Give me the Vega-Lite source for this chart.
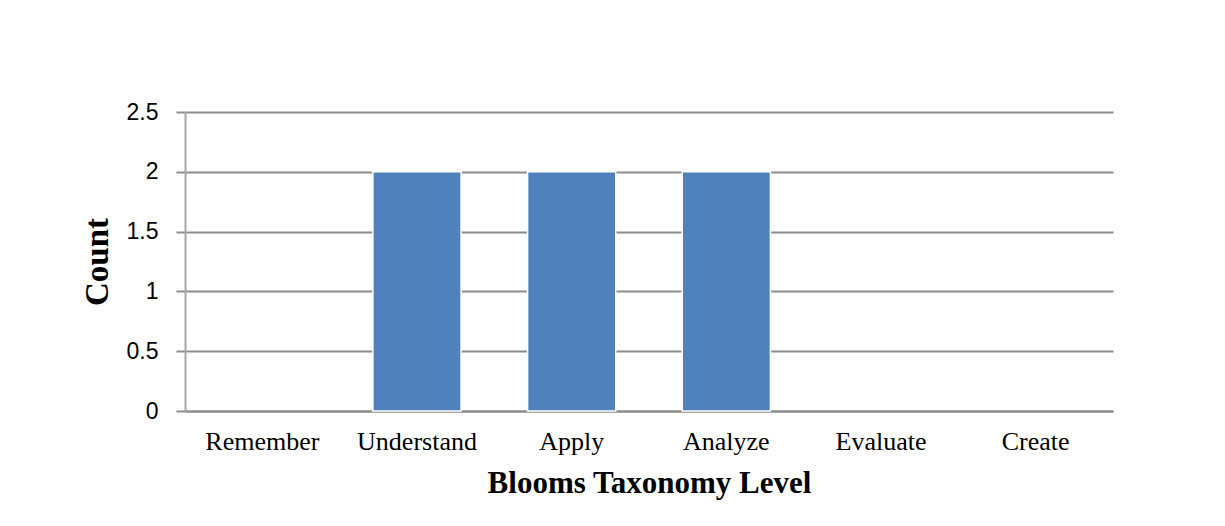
{
  "$schema": "https://vega.github.io/schema/vega-lite/v6.json",
  "width": 928,
  "height": 299,
  "autosize": "none",
  "padding": {"left": 185, "top": 112, "right": 112, "bottom": 115},
  "background": "white",
  "data": {
    "values": [
      {"level": "Remember", "count": 0},
      {"level": "Understand", "count": 2},
      {"level": "Apply", "count": 2},
      {"level": "Analyze", "count": 2},
      {"level": "Evaluate", "count": 0},
      {"level": "Create", "count": 0}
    ]
  },
  "mark": {"type": "bar", "color": "#4F81BD", "stroke": "white", "strokeWidth": 1.5},
  "encoding": {
    "x": {
      "field": "level",
      "type": "nominal",
      "sort": null,
      "scale": {"paddingInner": 0.43, "paddingOuter": 0.215},
      "axis": {
        "title": "Blooms Taxonomy Level",
        "titleFont": "Liberation Serif",
        "titleFontSize": 31,
        "titleFontWeight": "bold",
        "titleColor": "#000000",
        "titlePadding": 14,
        "labelAngle": 0,
        "labelFont": "Liberation Serif",
        "labelFontSize": 26,
        "labelColor": "#000000",
        "labelPadding": 17,
        "ticks": false,
        "domainColor": "#8c8c8c",
        "domainWidth": 2
      }
    },
    "y": {
      "field": "count",
      "type": "quantitative",
      "scale": {"domain": [0, 2.5]},
      "axis": {
        "title": "Count",
        "titleFont": "Liberation Serif",
        "titleFontSize": 33,
        "titleFontWeight": "bold",
        "titleColor": "#000000",
        "titlePadding": 12,
        "values": [0, 0.5, 1, 1.5, 2, 2.5],
        "format": "~g",
        "labelFont": "Liberation Sans",
        "labelFontSize": 23,
        "labelColor": "#000000",
        "labelPadding": 18,
        "tickSize": 9,
        "tickColor": "#8c8c8c",
        "tickWidth": 2,
        "grid": true,
        "gridColor": "#8c8c8c",
        "gridWidth": 2,
        "domainColor": "#a6a6a6",
        "domainWidth": 2
      }
    },
    "strokeOpacity": {
      "condition": {"test": "datum.count > 0", "value": 1},
      "value": 0
    }
  },
  "config": {"view": {"stroke": null}}
}
